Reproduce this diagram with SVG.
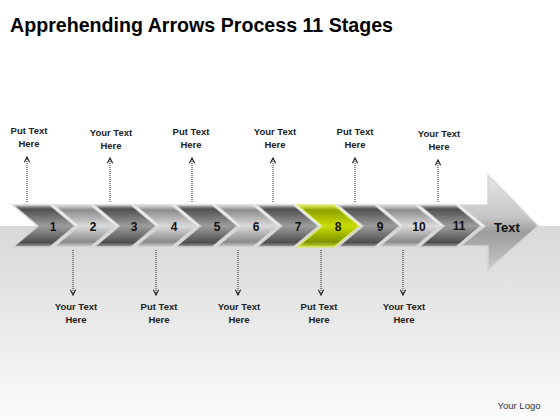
<svg xmlns="http://www.w3.org/2000/svg" width="560" height="420" viewBox="0 0 560 420">
<defs>
<linearGradient id="bg" x1="0" y1="0" x2="0" y2="1">
<stop offset="0" stop-color="#d8d8d8"/>
<stop offset="1" stop-color="#fbfbfb"/>
</linearGradient>
<linearGradient id="gDark" x1="0" y1="0" x2="0" y2="1">
<stop offset="0" stop-color="#b8b8b8"/>
<stop offset="0.1" stop-color="#505050"/>
<stop offset="0.5" stop-color="#9c9c9c"/>
<stop offset="0.9" stop-color="#4e4e4e"/>
<stop offset="1" stop-color="#a8a8a8"/>
</linearGradient>
<linearGradient id="gLight" x1="0" y1="0" x2="0" y2="1">
<stop offset="0" stop-color="#e2e2e2"/>
<stop offset="0.12" stop-color="#8c8c8c"/>
<stop offset="0.5" stop-color="#dadada"/>
<stop offset="0.88" stop-color="#8a8a8a"/>
<stop offset="1" stop-color="#cfcfcf"/>
</linearGradient>
<linearGradient id="gGreen" x1="0" y1="0" x2="0" y2="1">
<stop offset="0" stop-color="#e4f060"/>
<stop offset="0.12" stop-color="#8fa300"/>
<stop offset="0.5" stop-color="#c9dc00"/>
<stop offset="0.88" stop-color="#7f9400"/>
<stop offset="1" stop-color="#c4d640"/>
</linearGradient>
<linearGradient id="gBig" x1="0" y1="0" x2="0" y2="1">
<stop offset="0" stop-color="#e8e8e8"/>
<stop offset="0.45" stop-color="#c4c4c4"/>
<stop offset="0.6" stop-color="#9c9c9c"/>
<stop offset="1" stop-color="#cacaca"/>
</linearGradient>
<marker id="ah" viewBox="0 0 8 8" refX="7" refY="4" markerWidth="7" markerHeight="7" markerUnits="userSpaceOnUse" orient="auto">
<path d="M1,1 L7,4 L1,7" fill="none" stroke="#222" stroke-width="1.3"/>
</marker>
<polygon id="chev" points="0,0 37,0 62,21 37,42 0,42 25,21"/>
</defs>
<style>
.dark{fill:url(#gDark);stroke:#d4d4d4;stroke-width:1.5}
.light{fill:url(#gLight);stroke:#d8d8d8;stroke-width:1.5}
.green{fill:url(#gGreen);stroke:#d8e870;stroke-width:1.5}
.num{font-family:"Liberation Sans",Arial,sans-serif;font-weight:bold;font-size:12px;fill:#111;text-anchor:middle}
.lbl{font-family:"Liberation Sans",Arial,sans-serif;font-weight:bold;font-size:9.5px;fill:#222;text-anchor:middle}
.con{stroke:#222;stroke-width:1;stroke-dasharray:1 1;fill:none;marker-end:url(#ah)}
</style>
<rect x="0" y="0" width="560" height="420" fill="#ffffff"/>
<rect x="0" y="226" width="560" height="194" fill="url(#bg)"/>
<text x="10" y="32" font-family="Liberation Sans, Arial, sans-serif" font-weight="bold" font-size="20" fill="#000" textLength="383" lengthAdjust="spacingAndGlyphs">Apprehending Arrows Process 11 Stages</text>
<g id="big-arrow">
<polygon points="460,205 488,205 488,175 538,226 488,270 488,246 460,246 485,226" fill="url(#gBig)" stroke="#d6d6d6" stroke-width="1.5"/>
<text x="507" y="232" font-family="Liberation Sans, Arial, sans-serif" font-weight="bold" font-size="13" fill="#111" text-anchor="middle">Text</text>
</g>
<g id="stage1"><use href="#chev" x="13" y="205" class="dark"/><text class="num" x="53" y="231">1</text></g>
<g id="stage2"><use href="#chev" x="53.6" y="205" class="light"/><text class="num" x="93" y="231">2</text></g>
<g id="stage3"><use href="#chev" x="94.2" y="205" class="dark"/><text class="num" x="134" y="231">3</text></g>
<g id="stage4"><use href="#chev" x="134.8" y="205" class="light"/><text class="num" x="174" y="231">4</text></g>
<g id="stage5"><use href="#chev" x="175.4" y="205" class="dark"/><text class="num" x="217" y="231">5</text></g>
<g id="stage6"><use href="#chev" x="216" y="205" class="light"/><text class="num" x="256" y="231">6</text></g>
<g id="stage7"><use href="#chev" x="256.6" y="205" class="dark"/><text class="num" x="298" y="231">7</text></g>
<g id="stage8"><use href="#chev" x="297.2" y="205" class="green"/><text class="num" x="338" y="231">8</text></g>
<g id="stage9"><use href="#chev" x="337.8" y="205" class="dark"/><text class="num" x="380" y="231">9</text></g>
<g id="stage10"><use href="#chev" x="378.4" y="205" class="light"/><text class="num" x="419" y="231">10</text></g>
<g id="stage11"><use href="#chev" x="419" y="205" class="dark"/><text class="num" x="459" y="230">11</text></g>
<g id="connectors">
<line class="con" x1="27" y1="202" x2="27" y2="157"/>
<line class="con" x1="110" y1="202" x2="110" y2="158"/>
<line class="con" x1="192" y1="202" x2="192" y2="158"/>
<line class="con" x1="273" y1="202" x2="273" y2="158"/>
<line class="con" x1="355" y1="202" x2="355" y2="158"/>
<line class="con" x1="438" y1="202" x2="438" y2="160"/>
<line class="con" x1="73" y1="250" x2="73" y2="295"/>
<line class="con" x1="156" y1="250" x2="156" y2="295"/>
<line class="con" x1="238" y1="250" x2="238" y2="295"/>
<line class="con" x1="321" y1="250" x2="321" y2="295"/>
<line class="con" x1="403" y1="250" x2="403" y2="295"/>
</g>
<g id="label-top1"><text class="lbl" x="29" y="134">Put Text</text><text class="lbl" x="29" y="147">Here</text></g>
<g id="label-top2"><text class="lbl" x="111" y="136">Your Text</text><text class="lbl" x="111" y="149">Here</text></g>
<g id="label-top3"><text class="lbl" x="191" y="135">Put Text</text><text class="lbl" x="191" y="148">Here</text></g>
<g id="label-top4"><text class="lbl" x="275" y="135">Your Text</text><text class="lbl" x="275" y="148">Here</text></g>
<g id="label-top5"><text class="lbl" x="355" y="135">Put Text</text><text class="lbl" x="355" y="148">Here</text></g>
<g id="label-top6"><text class="lbl" x="439" y="137">Your Text</text><text class="lbl" x="439" y="150">Here</text></g>
<g id="label-bot1"><text class="lbl" x="76" y="310">Your Text</text><text class="lbl" x="76" y="323">Here</text></g>
<g id="label-bot2"><text class="lbl" x="159" y="310">Put Text</text><text class="lbl" x="159" y="323">Here</text></g>
<g id="label-bot3"><text class="lbl" x="239" y="310">Your Text</text><text class="lbl" x="239" y="323">Here</text></g>
<g id="label-bot4"><text class="lbl" x="319" y="310">Put Text</text><text class="lbl" x="319" y="323">Here</text></g>
<g id="label-bot5"><text class="lbl" x="404" y="310">Your Text</text><text class="lbl" x="404" y="323">Here</text></g>
<text x="519" y="409" font-family="Liberation Sans, Arial, sans-serif" font-size="9.5" fill="#333" text-anchor="middle">Your Logo</text>
</svg>
